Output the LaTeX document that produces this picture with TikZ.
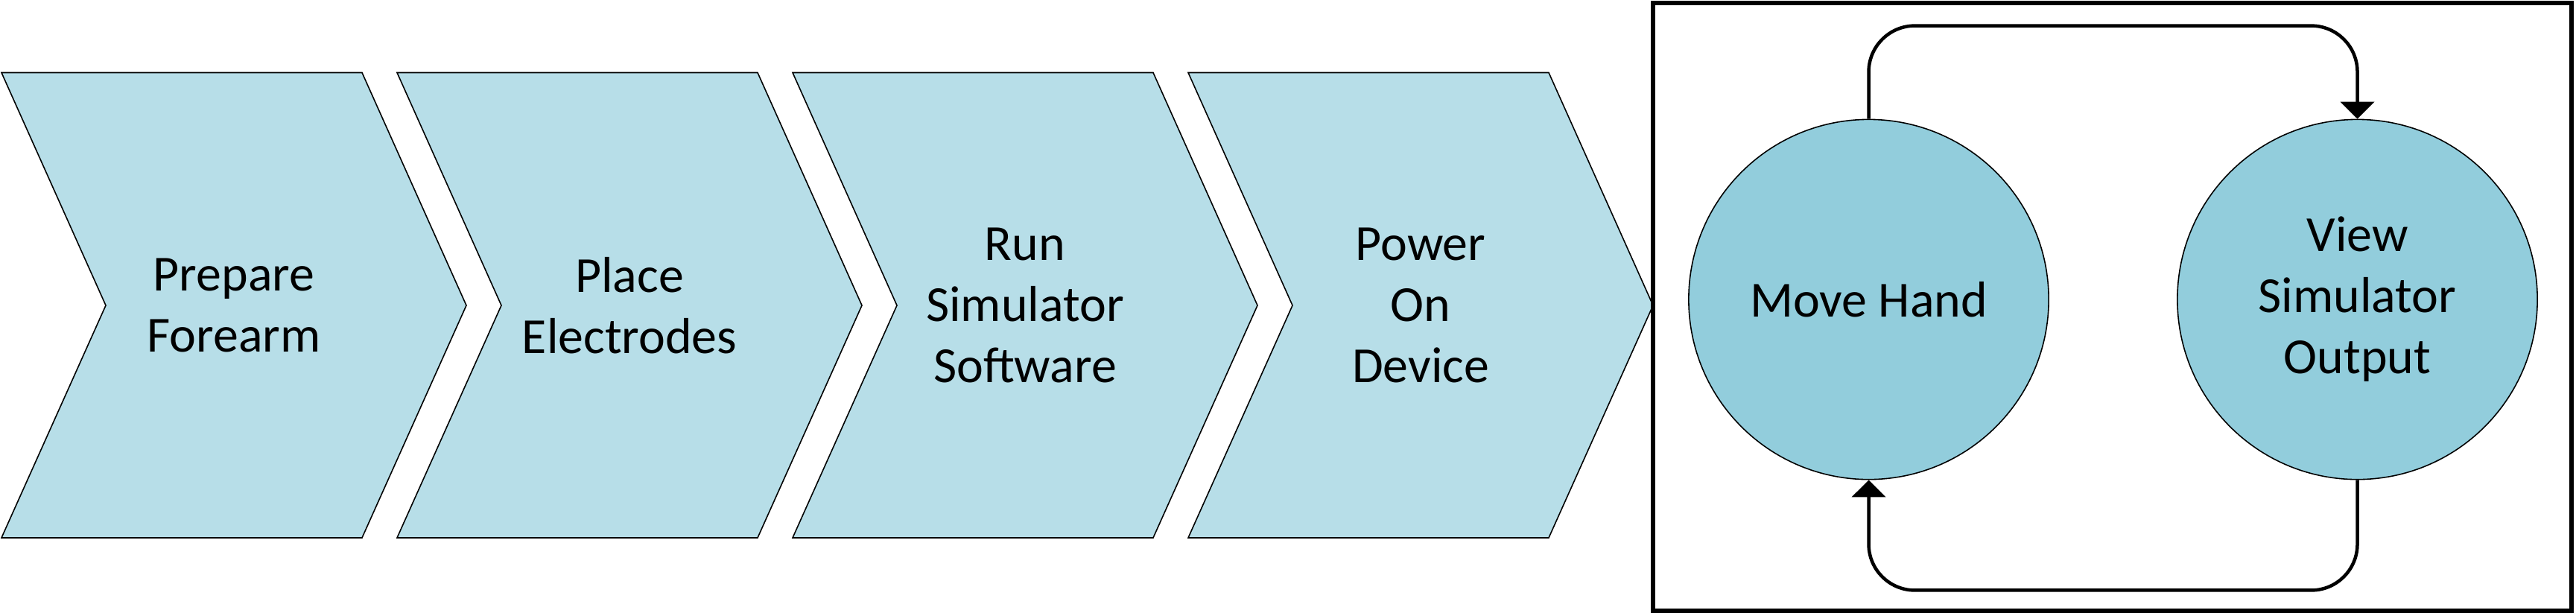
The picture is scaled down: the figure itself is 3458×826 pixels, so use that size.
\documentclass[tikz,border=0pt]{standalone}
\usepackage{fontspec}
\setmainfont{Carlito}
\usetikzlibrary{arrows.meta}
\definecolor{chevfill}{HTML}{B7DEE8}
\definecolor{circfill}{HTML}{92CDDC}
\tikzset{
  chev/.style={draw=black, line width=0.45pt, fill=chevfill, line join=miter},
  lbl/.style={align=center, inner sep=0pt, font=\fontsize{19.3}{23.3}\selectfont},
  circ/.style={circle, draw=black, line width=0.45pt, fill=circfill, minimum size=4.83cm, inner sep=0pt, align=center, font=\fontsize{19.3}{23.3}\selectfont},
  conn/.style={line width=0.045cm, rounded corners=0.62cm, -{Triangle[width=0.45cm,length=0.23cm]}},
  frame/.style={draw=black, line width=0.06cm},
}
\begin{document}
\begin{tikzpicture}[x=0.01cm, y=-0.01cm]
\useasboundingbox (0,0) rectangle (3458,826);
% chevrons
\foreach \L in {2,533,1064,1595}{
  \path[chev] (\L,97.5) -- ({\L+484},97.5) -- ({\L+624},410) -- ({\L+484},722) -- (\L,722) -- ({\L+140},410) -- cycle;
}
\node[lbl] (c1) at (314,410) {Prepare\\Forearm};
\node[lbl] (c2) at (845,410) {Place\\Electrodes};
\node[lbl] (c3) at (1376,410) {Run\\Simulator\\Software};
\node[lbl] (c4) at (1907,410) {Power\\On\\Device};
% frame
\draw[frame] (2219,4) rectangle (3451.5,820);
% circles
\node[circ] (mh) at (2508.5,402) {Move Hand};
\node[circ] (vs) at (3164.5,402) {View\\Simulator\\Output};
% connectors
\draw[conn] (mh.north) -- ++(0,-125) -| (vs.north);
\draw[conn] (vs.south) -- ++(0,148) -| (mh.south);
\end{tikzpicture}
\end{document}
